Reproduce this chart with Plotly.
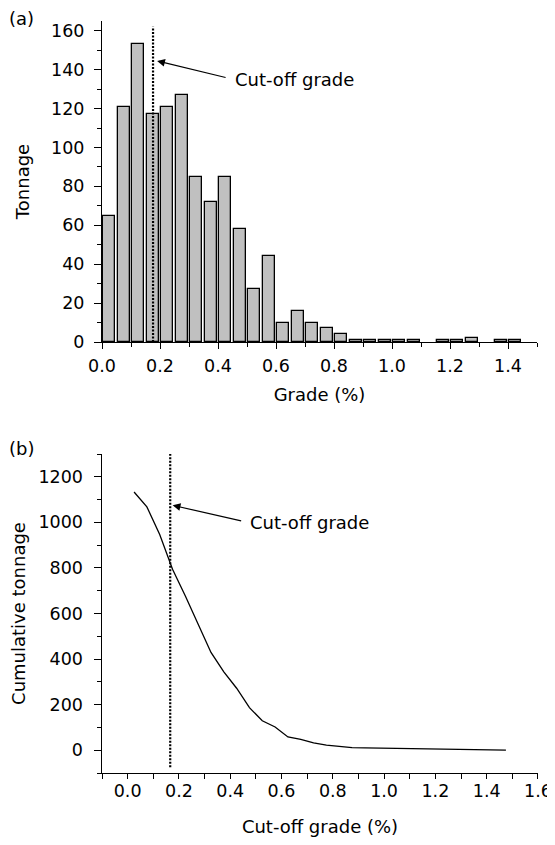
import plotly.graph_objects as go

# ---------------- data ----------------
# (a) histogram of block grades (bin centres, bin width 0.05 %)
grade_bins = [0.025, 0.075, 0.125, 0.175, 0.225, 0.275, 0.325, 0.375, 0.425, 0.475,
              0.525, 0.575, 0.625, 0.675, 0.725, 0.775, 0.825, 0.875, 0.925, 0.975,
              1.025, 1.075, 1.175, 1.225, 1.275, 1.375, 1.425]
tonnage = [65, 121, 153, 117, 121, 127, 85, 72, 85, 58,
           27, 44, 10, 16, 10, 7, 4, 1, 1, 1,
           1, 1, 1, 1, 2, 1, 1]

# (b) grade-tonnage curve
cutoff_grades = [0.025, 0.075, 0.125, 0.175, 0.225, 0.275, 0.325, 0.375, 0.425, 0.475,
                 0.525, 0.575, 0.625, 0.675, 0.725, 0.775, 0.825, 0.875, 0.925, 0.975,
                 1.025, 1.075, 1.125, 1.175, 1.225, 1.275, 1.325, 1.375, 1.425, 1.475]
cumulative_tonnage = [1133, 1068, 947, 794, 677, 556, 429, 344, 272, 187,
                      129, 102, 58, 48, 32, 22, 15, 11, 10, 9,
                      8, 7, 6, 6, 5, 4, 2, 2, 1, 0]

cutoff_a = 0.176
cutoff_b = 0.166
cutoff_line_a = [0, 162]      # vertical extent of the dotted marker in (a), tonnage units
cutoff_line_b = [-75, 1300]   # vertical extent in (b), tonnage units

FONT = "DejaVu Sans, Verdana, sans-serif"
TICK = 17.5
TXT = 18

# page is 555x845; browser body keeps its 8px margin
OFF = 8
W, H = 555 - OFF, 845 - 2 * OFF


def fx(p):
    return (p - OFF) / W


def fy(p):
    return 1 - (p - OFF) / H


fig = go.Figure()

fig.add_trace(go.Bar(
    x=grade_bins, y=tonnage, width=0.043,
    marker=dict(color="#c0c0c0", line=dict(color="black", width=1.3)),
    xaxis="x", yaxis="y", showlegend=False,
))

# dotted cut-off marker in (a), drawn on the label axis
fig.add_trace(go.Scatter(
    x=[cutoff_a, cutoff_a], y=cutoff_line_a, mode="lines",
    line=dict(color="black", width=2.2, dash="2px,1.5px"),
    xaxis="x", yaxis="y3", showlegend=False, hoverinfo="skip",
))

fig.add_trace(go.Scatter(
    x=cutoff_grades, y=cumulative_tonnage, mode="lines",
    line=dict(color="black", width=1.3),
    xaxis="x2", yaxis="y2", showlegend=False,
))

# dotted cut-off marker in (b), drawn on the label axis
fig.add_trace(go.Scatter(
    x=[cutoff_b, cutoff_b], y=cutoff_line_b, mode="lines",
    line=dict(color="black", width=2.2, dash="2px,1.5px"),
    xaxis="x2", yaxis="y4", showlegend=False, hoverinfo="skip",
))

axis_common = dict(
    showline=True, linecolor="black", linewidth=1.3, mirror=False,
    showgrid=False, zeroline=False, ticks="outside", tickcolor="black",
    tickwidth=1.3, tickfont=dict(family=FONT, size=TICK, color="black"),
    automargin=False,
)

label_axis = dict(
    anchor="free", side="left", ticks="", showline=False, showgrid=False,
    zeroline=False, tickfont=dict(family=FONT, size=TICK, color="black"),
    automargin=False,
)

fig.update_layout(
    width=W, height=H,
    margin=dict(l=0, r=0, t=0, b=0),
    paper_bgcolor="white", plot_bgcolor="white",
    font=dict(family=FONT, size=TXT, color="black"),
    bargap=0,
    xaxis=dict(
        domain=[fx(102), fx(537)], anchor="y", range=[0, 1.5],
        tick0=0, dtick=0.2, tickformat=".1f", ticklen=6, ticklabelstandoff=2,
        minor=dict(dtick=0.1, ticks="outside", ticklen=4, tickcolor="black", tickwidth=1.3),
        title=dict(text="Grade (%)", font=dict(family=FONT, size=TXT), standoff=13),
        **axis_common,
    ),
    # (a) y axis: line and tick marks
    yaxis=dict(
        domain=[fy(342), fy(21)], anchor="x", range=[0, 165],
        tick0=0, dtick=20, ticklen=7, showticklabels=False,
        minor=dict(dtick=10, ticks="outside", ticklen=4, tickcolor="black", tickwidth=1.3),
        **axis_common,
    ),
    # (a) y axis: tick labels and title
    yaxis3=dict(
        domain=[fy(342), fy(21)], overlaying="y", position=fx(84.5), range=[0, 165],
        tick0=0, dtick=20,
        title=dict(text="Tonnage", font=dict(family=FONT, size=TXT)),
        **label_axis,
    ),
    xaxis2=dict(
        domain=[fx(102), fx(538)], anchor="y2", range=[-0.1, 1.6001],
        tick0=0, dtick=0.2, tickformat=".1f", ticklen=5, ticklabelstandoff=-3,
        minor=dict(dtick=0.1, ticks="outside", ticklen=5, tickcolor="black", tickwidth=1.3),
        title=dict(text="Cut-off grade (%)", font=dict(family=FONT, size=TXT), standoff=22),
        **axis_common,
    ),
    # (b) y axis: line and tick marks
    yaxis2=dict(
        domain=[fy(773), fy(454)], anchor="x2", range=[-100, 1300],
        tick0=0, dtick=200, ticklen=7, showticklabels=False,
        minor=dict(dtick=100, ticks="outside", ticklen=4, tickcolor="black", tickwidth=1.3),
        **axis_common,
    ),
    # (b) y axis: tick labels and title
    yaxis4=dict(
        domain=[fy(773), fy(454)], overlaying="y2", position=fx(83), range=[-100, 1300],
        tick0=0, dtick=200,
        title=dict(text="Cumulative tonnage", font=dict(family=FONT, size=TXT)),
        **label_axis,
    ),
)

# arrows (no text) and labels
fig.add_annotation(xref="x", yref="y", x=0.19, y=144.5, ax=70, ay=17, text="",
                   showarrow=True, arrowhead=2, arrowsize=1.3, arrowwidth=1.2, arrowcolor="black")
fig.add_annotation(xref="x", yref="y", x=0.452, y=134.7, text="Cut-off grade", showarrow=False,
                   xanchor="left", yanchor="middle", font=dict(family=FONT, size=TXT))
fig.add_annotation(xref="x2", yref="y2", x=0.1755, y=1075, ax=70, ay=16, text="",
                   showarrow=True, arrowhead=2, arrowsize=1.3, arrowwidth=1.2, arrowcolor="black")
fig.add_annotation(xref="x2", yref="y2", x=0.468, y=1000, text="Cut-off grade", showarrow=False,
                   xanchor="left", yanchor="middle", font=dict(family=FONT, size=TXT))

# panel letters
fig.add_annotation(xref="paper", yref="paper", x=fx(7), y=fy(18), text="(a)", showarrow=False,
                   xanchor="left", yanchor="middle", font=dict(family=FONT, size=TXT))
fig.add_annotation(xref="paper", yref="paper", x=fx(7), y=fy(448), text="(b)", showarrow=False,
                   xanchor="left", yanchor="middle", font=dict(family=FONT, size=TXT))

fig.write_html("out.html", config={"displayModeBar": False})
